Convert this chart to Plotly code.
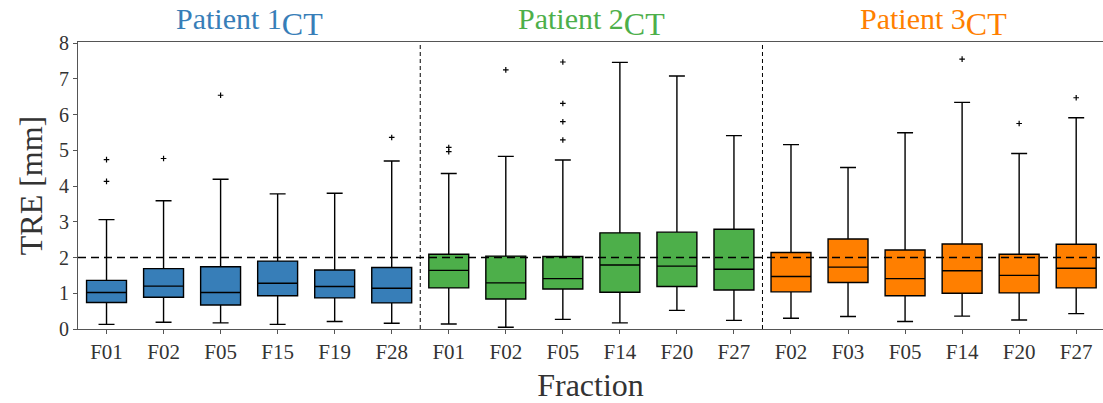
import plotly.graph_objects as go

# Fractions per patient (tick labels)
fractions_p1 = ["F01", "F02", "F05", "F15", "F19", "F28"]
fractions_p2 = ["F01", "F02", "F05", "F14", "F20", "F27"]
fractions_p3 = ["F02", "F03", "F05", "F14", "F20", "F27"]

# Box statistics of TRE [mm] per fraction
p1_low = [0.13, 0.19, 0.17, 0.13, 0.21, 0.16]
p1_q1 = [0.74, 0.89, 0.67, 0.93, 0.87, 0.73]
p1_med = [1.02, 1.20, 1.02, 1.28, 1.19, 1.14]
p1_q3 = [1.36, 1.69, 1.74, 1.90, 1.65, 1.72]
p1_high = [3.06, 3.59, 4.19, 3.78, 3.80, 4.70]

p2_low = [0.14, 0.05, 0.27, 0.17, 0.52, 0.24]
p2_q1 = [1.15, 0.84, 1.12, 1.03, 1.19, 1.09]
p2_med = [1.64, 1.29, 1.41, 1.79, 1.76, 1.67]
p2_q3 = [2.09, 2.04, 2.03, 2.69, 2.71, 2.79]
p2_high = [4.35, 4.83, 4.73, 7.46, 7.08, 5.41]

p3_low = [0.30, 0.35, 0.21, 0.36, 0.25, 0.43]
p3_q1 = [1.04, 1.30, 0.93, 1.00, 1.01, 1.15]
p3_med = [1.47, 1.73, 1.41, 1.63, 1.50, 1.70]
p3_q3 = [2.14, 2.52, 2.21, 2.38, 2.09, 2.37]
p3_high = [5.16, 4.52, 5.49, 6.34, 4.91, 5.91]

# Outliers: (fraction index within patient, value)
p1_out_idx = [0, 0, 1, 2, 5]
p1_out_val = [4.13, 4.74, 4.77, 6.54, 5.36]
p2_out_idx = [0, 0, 1, 2, 2, 2, 2]
p2_out_val = [4.96, 5.08, 7.25, 5.29, 5.80, 6.31, 7.47]
p3_out_idx = [3, 4, 5]
p3_out_val = [7.55, 5.75, 6.47]

threshold = 2.0

patients = [
    ("Patient 1", "#377eb8", fractions_p1, p1_low, p1_q1, p1_med, p1_q3, p1_high, p1_out_idx, p1_out_val),
    ("Patient 2", "#4daf4a", fractions_p2, p2_low, p2_q1, p2_med, p2_q3, p2_high, p2_out_idx, p2_out_val),
    ("Patient 3", "#ff7f00", fractions_p3, p3_low, p3_q1, p3_med, p3_q3, p3_high, p3_out_idx, p3_out_val),
]

SERIF = "Liberation Serif"
TXT = "#333333"

fig = go.Figure()
tickvals, ticktext = [], []
offset = 0
for name, color, fr, lo, q1, med, q3, hi, oi, ov in patients:
    xs = [offset + i for i in range(len(fr))]
    tickvals += xs
    ticktext += fr
    fig.add_trace(go.Box(
        x=xs, q1=q1, median=med, q3=q3, lowerfence=lo, upperfence=hi,
        width=0.7, whiskerwidth=0.4,
        fillcolor=color, line=dict(color="black", width=1.4),
        boxpoints=False, name=name, showlegend=False,
    ))
    fig.add_trace(go.Scatter(
        x=[offset + i for i in oi], y=ov, mode="markers",
        marker=dict(symbol="cross-thin", size=4, color="black",
                    line=dict(color="black", width=1.2)),
        showlegend=False, hoverinfo="y",
    ))
    fig.add_annotation(
        x=offset + (len(fr) - 1) / 2, xref="x", y=1.0, yref="paper",
        yanchor="bottom", yshift=-2, showarrow=False,
        text=f"{name}<sub><span style='font-size:32px'>CT</span></sub>",
        font=dict(family=SERIF, size=30, color=color),
    )
    offset += len(fr)

# Separators between patients
for xsep in [5.5, 11.5]:
    fig.add_shape(type="line", x0=xsep, x1=xsep, y0=0, y1=1, xref="x", yref="paper",
                  line=dict(color="black", width=1, dash="4px,3px"))

# 2 mm reference line
fig.add_shape(type="line", x0=0, x1=1, xref="paper", y0=threshold, y1=threshold, yref="y",
              line=dict(color="black", width=1.6, dash="8px,5px"), layer="above")

fig.update_layout(
    width=1103, height=403,
    margin=dict(l=78, r=0, t=42, b=74),
    plot_bgcolor="white", paper_bgcolor="white",
    boxmode="overlay",
    font=dict(family=SERIF, color=TXT),
    xaxis=dict(
        range=[-0.5, 17.47], tickvals=tickvals, ticktext=ticktext,
        tickfont=dict(family=SERIF, size=21, color=TXT),
        ticks="outside", ticklen=4, tickcolor="#555555",
        showline=True, linecolor="#555555", linewidth=1.2, mirror=True,
        showgrid=False, zeroline=False,
        title=dict(text="Fraction", font=dict(family=SERIF, size=32, color=TXT), standoff=12),
    ),
    yaxis=dict(
        range=[0, 8.03], tickvals=list(range(0, 9)),
        tickfont=dict(family=SERIF, size=20, color=TXT),
        ticks="outside", ticklen=4, tickcolor="#555555",
        showline=True, linecolor="#555555", linewidth=1.2, mirror=True,
        showgrid=False, zeroline=False,
        title=dict(text="TRE [mm]", font=dict(family=SERIF, size=32, color=TXT), standoff=6),
    ),
)

fig.write_html("out.html")
